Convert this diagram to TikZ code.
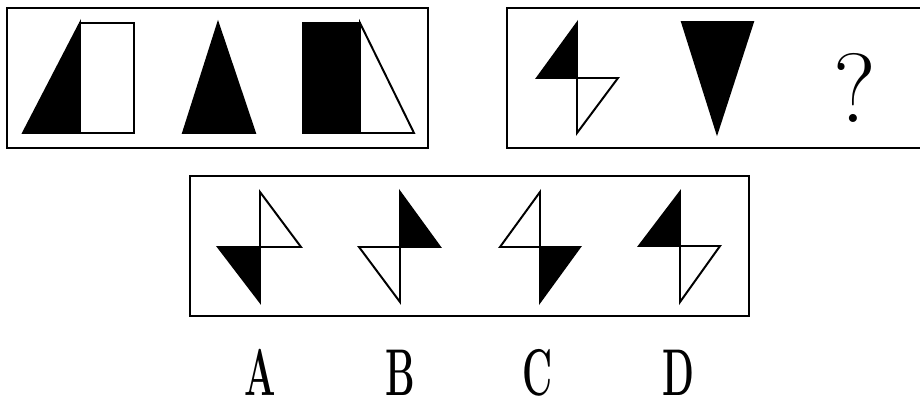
\documentclass[tikz,border=0pt]{standalone}
\usepackage{tikz}
\tikzset{
  panel/.style={draw, line width=1.6pt},
  solid part/.style={fill=black, draw=black, line width=1.4pt, line join=miter},
  open part/.style={draw=black, fill=white, line width=1.4pt, line join=miter},
  qmark/.style={font=\fontsize{70}{70}\selectfont, inner sep=0pt},
  optlabel/.style={font=\fontsize{47}{47}\selectfont\bfseries, inner sep=0pt, anchor=base}
}

\begin{document}
\begin{tikzpicture}[x=0.025cm, y=-0.025cm]
  \useasboundingbox (0,0) rectangle (920,405);

  % first row, given series
  \draw[panel] (7,8) rectangle (428,148);
  \draw[solid part] (23,133) -- (80,23) -- (80,133) -- cycle;
  \draw[open part] (80,23) rectangle (134,133);
  \draw[solid part] (183,133) -- (218,23) -- (255,133) -- cycle;
  \draw[solid part] (303,23) rectangle (360,133);
  \draw[open part] (360,23) -- (414,133) -- (360,133) -- cycle;

  % first row, series to complete
  \draw[panel] (507,8) -- (922,8);
  \draw[panel] (507,148) -- (922,148);
  \draw[panel] (507,7.2) -- (507,148.8);
  \draw[solid part] (577,23) -- (537,78) -- (577,78) -- cycle;
  \draw[open part] (577,78) -- (618,78) -- (577,133) -- cycle;
  \draw[solid part] (682,22) -- (753,22) -- (717,133) -- cycle;
  \node[qmark] (ask) at (855,88) {?};

  % options
  \draw[panel] (190,176) rectangle (749,316);
  \draw[solid part] (218,247) -- (260,247) -- (260,302) -- cycle;
  \draw[open part] (260,192) -- (301,247) -- (260,247) -- cycle;

  \draw[solid part] (400,192) -- (440,247) -- (400,247) -- cycle;
  \draw[open part] (359,247) -- (400,247) -- (400,302) -- cycle;

  \draw[open part] (540,192) -- (500,247) -- (540,247) -- cycle;
  \draw[solid part] (540,247) -- (580,247) -- (540,302) -- cycle;

  \draw[solid part] (680,192) -- (639,246) -- (680,246) -- cycle;
  \draw[open part] (680,246) -- (720,246) -- (680,302) -- cycle;

  \node[optlabel] (optA) at (260,395) {\scalebox{0.56}[1]{A}};
  \node[optlabel] (optB) at (400,395) {\scalebox{0.56}[1]{B}};
  \node[optlabel] (optC) at (538,395) {\scalebox{0.56}[1]{C}};
  \node[optlabel] (optD) at (678,395) {\scalebox{0.56}[1]{D}};
\end{tikzpicture}
\end{document}
